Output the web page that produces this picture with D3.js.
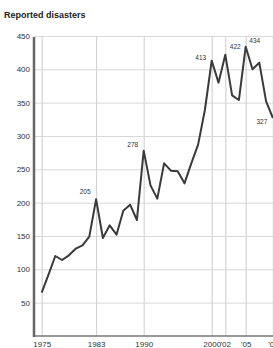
<!DOCTYPE html>
<html><head><meta charset="utf-8">
<script src="https://cdn.jsdelivr.net/npm/d3@7"></script>
<style>html,body{margin:0;padding:0;background:#fff;}svg{display:block;}</style>
</head><body>
<script>
const years = d3.range(1975, 2010);
const disasters = [65, 92, 120, 114, 121, 131, 136, 149, 205, 147, 166, 152, 188, 197, 174, 278, 226, 206, 259, 248, 247, 229, 259, 287, 339, 413, 380, 422, 361, 354, 434, 400, 410, 352, 327];
const yTicks = [50, 100, 150, 200, 250, 300, 350, 400, 450];
const xTicks = [1975, 1983, 1990, 2000, 2002, 2005, 2009];
const xTickLabels = ["1975", "1983", "1990", "2000", "'02", "'05", "'09"];
const labelYears = [1983, 1990, 2000, 2002, 2005, 2009];
const labelTexts = ["205", "278", "413", "422", "434", "327"];
const labelDx = [-11, -11, -11, 10, 9, -11];
const labelDy = [-5, -4, -1, -6, -4, 6];
const title = "Reported disasters";

const W = 273, H = 348;
const svg = d3.select("body").append("svg").attr("width", W).attr("height", H);
const x = d3.scaleLinear().domain([1975, 2009]).range([41.7, 272.9]);
const y = d3.scaleLinear().domain([0, 450]).range([336, 36]);
const axisX = 34;

svg.append("text").attr("x", 4).attr("y", 18).text(title)
  .attr("font-family", "Liberation Sans, Arial, sans-serif").attr("font-weight", "bold")
  .attr("font-size", 9).attr("fill", "#222");

// horizontal gridlines
const gy = d3.axisLeft(y).tickValues(yTicks).tickSize(-(W - axisX)).tickFormat(d => d);
const gY = svg.append("g").attr("transform", `translate(${axisX},0)`).call(gy);
gY.select(".domain").remove();
gY.selectAll(".tick line").attr("stroke", "#d9d9d9").attr("stroke-width", 1);
gY.selectAll(".tick text").attr("x", -4).attr("font-family", "Liberation Sans, Arial, sans-serif")
  .attr("font-size", 8).attr("fill", "#333");

// vertical gridlines + x labels
const gx = d3.axisBottom(x).tickValues(xTicks).tickSize(-(336 - 36)).tickFormat((d, i) => xTickLabels[i]);
const gX = svg.append("g").attr("transform", `translate(0,336)`).call(gx);
gX.select(".domain").remove();
gX.selectAll(".tick line").attr("stroke", "#d4d4d4").attr("stroke-width", 1.2);
gX.selectAll(".tick text").attr("y", 5).attr("dy", "0.71em").attr("font-family", "Liberation Sans, Arial, sans-serif")
  .attr("font-size", 8).attr("fill", "#333");

// axes lines
svg.append("line").attr("x1", axisX).attr("x2", W).attr("y1", 336).attr("y2", 336)
  .attr("stroke", "#777").attr("stroke-width", 1.5);
svg.append("line").attr("x1", axisX).attr("x2", axisX).attr("y1", 37).attr("y2", 337)
  .attr("stroke", "#666").attr("stroke-width", 2.5);

// line
const line = d3.line().x((d, i) => x(years[i])).y(d => y(d));
svg.append("path").datum(disasters).attr("d", line).attr("fill", "none")
  .attr("stroke", "#3a3a3a").attr("stroke-width", 2).attr("stroke-linejoin", "round");

// labels
svg.selectAll(".lbl").data(labelYears).enter().append("text")
  .attr("x", (d, i) => x(d) + labelDx[i])
  .attr("y", (d, i) => y(disasters[years.indexOf(d)]) + labelDy[i])
  .attr("text-anchor", "middle").attr("font-family", "Liberation Sans, Arial, sans-serif")
  .attr("font-size", 6.5).attr("fill", "#333").text((d, i) => labelTexts[i]);
</script>
</body></html>
